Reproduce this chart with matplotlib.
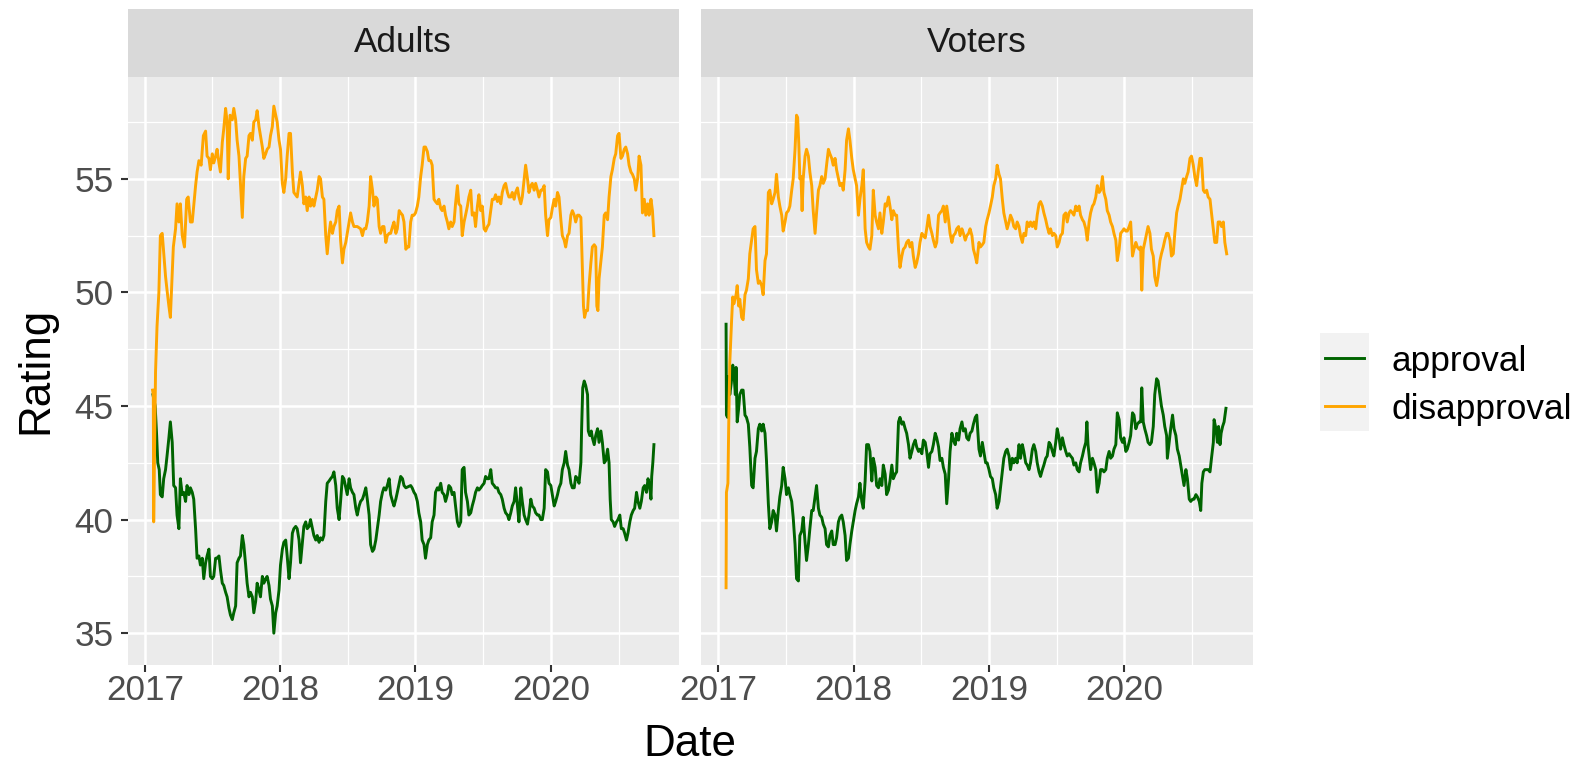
import numpy as np
import pandas as pd
import matplotlib
matplotlib.use("Agg")
import matplotlib.pyplot as plt
import matplotlib.dates as mdates
from matplotlib.ticker import FixedLocator

plt.rcParams['font.family'] = ['Liberation Sans', 'DejaVu Sans']

# ---------------- data (days since BASE_DATE, rating %) ----------------
BASE_DATE = "2017-01-01"
panels = ["Adults", "Voters"]
series_names = ["approval", "disapproval"]
x_tick_labels = ["2017", "2018", "2019", "2020"]
y_ticks = [35, 40, 45, 50, 55]

adults_disapproval_day = [21,23,24,26,29,33,38,42,47,56,60,65,69,77,83,87,92,96,101,107,113,117,123,128,132,137,141,146,152,158,164,168,173,177,182,186,191,195,200,204,209,213,218,222,225,230,236,240,245,249,254,258,263,267,272,276,281,285,290,294,299,303,308,312,317,321,326,330,335,339,344,348,353,357,362,366,371,375,380,384,389,393,398,402,411,420,425,429,434,438,443,447,452,456,461,465,470,474,479,483,488,492,497,501,506,510,515,519,524,528,533,537,542,546,551,555,560,564,573,582,587,591,596,600,605,609,614,618,623,627,632,636,641,645,650,654,659,663,668,672,677,681,686,690,695,699,704,708,712,717,721,726,730,735,739,744,748,753,757,762,766,771,775,780,784,789,793,798,802,807,811,816,820,825,829,834,838,843,847,852,856,861,865,870,874,879,883,888,892,897,901,906,910,915,919,924,928,933,937,942,946,951,955,960,964,969,973,978,982,987,991,996,1000,1005,1009,1014,1018,1023,1027,1032,1036,1041,1045,1050,1054,1059,1063,1068,1072,1077,1081,1086,1090,1095,1099,1104,1108,1113,1117,1122,1126,1131,1135,1140,1144,1149,1153,1158,1162,1167,1171,1176,1180,1183,1186,1190,1194,1198,1203,1207,1212,1216,1219,1222,1225,1230,1234,1239,1243,1248,1252,1257,1261,1266,1270,1275,1279,1284,1288,1293,1297,1302,1306,1311,1315,1320,1324,1329,1333,1338,1342,1347,1351,1356,1360,1365,1369,1373]
adults_disapproval = [45.7,45.5,39.9,42.5,46.5,48.5,50.0,52.5,52.6,50.7,50.1,49.4,48.9,52.0,52.8,53.9,53.1,53.9,52.5,52.0,54.1,54.2,53.1,53.1,53.8,54.7,55.3,55.8,55.6,56.9,57.1,56.0,55.9,55.4,56.1,55.7,56.0,56.3,55.7,55.3,56.6,57.2,58.1,57.5,55.0,57.8,57.6,58.1,57.6,56.7,56.0,54.8,53.3,55.1,55.9,56.0,56.9,57.0,56.7,57.5,57.6,58.0,57.3,56.9,56.4,55.9,56.1,56.3,56.4,56.9,57.3,58.2,57.8,57.5,56.7,56.3,54.8,54.4,55.0,56.0,57.0,57.0,55.3,54.4,54.2,55.3,54.7,53.9,54.2,53.6,54.2,53.8,54.1,53.8,54.2,54.5,55.1,55.0,54.2,54.1,52.5,51.7,52.6,53.1,52.6,52.9,53.1,53.6,53.8,52.3,51.3,51.9,52.2,52.6,53.1,53.5,53.1,52.9,52.9,52.8,52.5,52.8,52.8,53.1,53.8,55.1,54.5,53.8,54.2,54.1,52.9,52.6,52.9,52.9,52.2,52.5,52.6,52.6,52.9,53.1,52.6,52.8,53.6,53.5,53.4,53.1,51.9,52.0,52.0,53.1,53.4,53.4,53.5,53.8,54.2,55.1,55.6,56.4,56.4,56.2,55.8,55.8,55.6,54.1,54.0,53.9,54.1,53.7,53.6,53.8,53.4,53.1,52.8,53.1,52.9,53.1,53.9,54.7,53.9,53.8,52.5,53.1,53.4,53.8,54.2,54.5,53.4,53.5,52.9,53.8,54.3,53.6,53.8,52.8,52.7,52.9,53.0,53.6,54.1,54.1,54.3,54.0,54.2,53.9,54.4,54.7,54.8,54.4,54.2,54.2,54.4,54.1,54.4,54.6,54.2,53.9,54.2,55.0,55.6,55.0,54.4,54.7,54.8,54.5,54.8,54.5,54.2,54.5,54.5,54.7,53.4,52.5,53.2,53.3,53.7,54.1,53.8,54.4,54.2,53.2,52.5,52.3,52.0,52.5,52.6,53.4,53.6,53.4,53.1,53.4,53.4,53.3,51.1,49.4,48.9,49.2,49.2,50.3,51.3,52.0,52.1,52.0,49.4,49.2,50.6,51.4,52.0,53.4,53.5,53.2,54.2,55.1,55.4,55.9,56.1,56.9,57.0,55.9,56.0,56.3,56.4,56.1,55.6,55.3,55.2,55.0,54.5,55.0,56.0,55.6,53.5,54.1,53.4,53.9,53.4,54.1,53.6,52.5]

adults_approval_day = [22,28,32,35,39,42,47,51,56,60,65,69,74,78,83,87,92,96,101,105,110,114,119,123,128,132,137,141,146,150,155,159,164,168,173,177,182,186,191,195,200,204,209,213,218,222,227,231,236,240,245,249,254,258,263,267,272,276,281,285,290,294,299,303,308,312,317,321,326,330,335,339,344,348,353,357,362,366,371,375,380,384,389,393,398,402,407,411,416,420,425,429,434,438,443,447,452,456,461,465,470,474,479,483,488,492,497,501,506,510,515,519,524,528,533,537,542,546,551,555,560,564,569,573,578,582,587,591,596,600,605,609,614,618,623,627,632,636,641,645,650,654,659,663,668,672,677,681,686,690,695,699,704,717,721,726,730,735,739,744,748,753,757,762,766,771,775,780,784,789,793,798,802,807,811,816,820,825,829,834,838,843,847,852,856,861,865,870,874,879,883,888,892,897,901,906,910,915,919,924,928,933,937,942,946,951,955,960,964,969,973,978,982,987,991,996,1000,1005,1009,1014,1018,1023,1027,1032,1036,1041,1045,1050,1054,1059,1063,1068,1072,1077,1081,1086,1090,1095,1099,1104,1108,1113,1117,1122,1126,1131,1135,1140,1144,1149,1153,1158,1162,1167,1171,1176,1178,1181,1185,1189,1194,1196,1200,1204,1207,1212,1216,1221,1225,1230,1234,1239,1243,1248,1252,1255,1258,1263,1267,1272,1276,1281,1285,1290,1294,1299,1303,1308,1312,1317,1321,1326,1330,1335,1339,1344,1348,1353,1357,1362,1365,1367,1370,1373]
adults_approval = [45.5,45.0,43.7,42.5,42.2,41.1,41.0,41.8,42.2,42.8,43.6,44.3,43.4,41.5,41.4,40.2,39.6,41.8,41.1,41.2,40.8,41.5,41.1,41.4,41.2,40.9,39.6,38.3,38.4,38.0,38.3,37.4,38.1,38.4,38.7,37.5,37.4,37.5,38.3,38.3,38.4,37.8,37.2,37.1,36.8,36.6,36.1,35.8,35.6,35.9,36.2,38.1,38.3,38.4,39.3,38.9,38.0,37.2,36.6,36.8,36.6,35.9,36.4,37.2,36.9,36.6,37.5,37.2,37.4,37.5,37.1,36.5,36.2,35.0,35.9,36.2,36.9,38.0,38.7,39.0,39.1,38.4,37.4,38.1,39.4,39.6,39.7,39.6,39.1,38.1,39.0,39.7,39.9,39.6,39.7,40.0,39.6,39.3,39.1,39.3,39.0,39.2,39.1,39.3,40.8,41.6,41.7,41.8,41.9,42.1,41.5,40.5,40.0,40.8,41.9,41.8,41.4,41.1,41.8,41.4,41.2,41.1,40.5,40.2,40.6,40.8,40.9,41.1,41.4,40.9,40.2,38.9,38.6,38.7,39.1,39.6,40.2,40.8,41.2,41.4,41.3,41.5,41.8,41.1,40.8,40.6,40.9,41.2,41.6,41.9,41.8,41.5,41.4,41.5,41.4,41.2,41.1,40.8,40.3,39.9,39.1,38.9,38.3,38.9,39.1,39.2,39.9,40.2,41.2,41.4,41.3,41.6,41.2,41.1,40.8,41.1,41.5,41.4,41.1,41.2,40.6,39.9,39.7,39.9,42.2,42.3,41.2,40.8,40.2,40.3,40.6,40.9,41.2,41.4,41.3,41.4,41.5,41.6,41.9,41.8,41.8,42.2,41.6,41.5,41.4,41.4,41.2,41.1,40.9,40.5,40.3,40.2,40.0,40.3,40.6,40.8,41.4,40.6,39.9,41.4,40.8,40.2,40.0,39.8,40.2,40.9,40.6,40.5,40.3,40.2,40.2,40.0,40.0,40.5,42.2,42.1,41.6,41.5,41.1,40.6,40.8,41.1,41.4,41.6,42.2,42.5,43.0,42.4,42.2,41.6,41.4,41.4,41.9,41.8,41.6,42.5,44.0,45.8,46.1,45.9,45.5,43.9,43.7,43.9,43.6,43.3,43.7,44.0,43.4,43.9,43.4,42.5,42.6,43.1,42.5,40.9,40.0,39.9,39.7,39.9,40.0,40.2,39.6,39.6,39.4,39.1,39.4,39.9,40.2,40.4,40.5,41.2,40.8,40.5,40.8,41.4,41.5,41.2,41.8,41.4,40.9,41.9,42.5,43.3]

voters_disapproval_day = [21,22,26,28,31,35,36,39,42,48,51,55,58,63,67,72,76,81,85,90,94,99,103,108,112,117,121,126,130,135,139,144,148,153,157,162,166,171,175,180,184,189,193,198,202,207,211,214,217,220,223,226,229,234,238,243,247,252,256,261,265,270,274,279,283,288,292,297,301,306,310,315,319,324,328,333,337,342,346,351,355,360,364,369,373,378,382,387,391,396,400,405,409,414,418,423,427,432,436,441,445,450,454,459,463,468,472,477,481,486,490,495,499,504,508,513,517,522,526,531,535,540,544,549,553,558,562,567,571,576,580,585,589,594,598,603,607,612,616,621,625,630,634,639,643,648,652,657,661,666,670,675,679,684,688,693,697,703,707,712,716,721,725,730,734,739,743,748,752,757,761,766,770,775,779,784,788,793,797,802,806,811,815,820,824,829,833,838,842,847,851,856,860,865,869,874,878,883,887,892,896,901,905,910,914,919,923,928,932,937,941,946,950,955,959,964,968,973,977,982,986,991,995,1000,1004,1009,1013,1018,1022,1027,1031,1036,1040,1045,1049,1054,1058,1063,1067,1072,1076,1081,1085,1090,1094,1099,1103,1108,1112,1117,1121,1126,1130,1135,1139,1142,1146,1150,1155,1159,1164,1168,1173,1177,1182,1186,1191,1195,1200,1204,1209,1213,1218,1222,1227,1231,1236,1240,1245,1249,1254,1258,1263,1267,1272,1276,1281,1285,1290,1294,1299,1303,1308,1312,1317,1321,1326,1330,1335,1339,1344,1348,1353,1357,1362,1366,1371]
voters_disapproval = [37.0,41.2,41.6,44.0,46.9,48.5,48.8,49.8,49.5,49.9,50.3,49.4,49.7,48.9,48.8,49.9,50.1,50.6,51.7,52.3,52.8,52.9,51.0,50.4,50.5,50.3,49.9,51.4,51.7,54.4,54.5,53.9,54.1,54.4,55.2,54.2,53.8,53.4,52.7,53.1,53.5,53.6,53.8,54.5,55.0,56.3,57.8,57.7,56.6,55.0,55.1,53.6,55.0,56.0,56.3,56.0,55.3,54.7,53.6,52.6,53.5,54.5,54.7,55.1,54.8,55.0,55.6,56.3,56.1,55.9,55.6,55.9,55.4,55.0,54.7,54.8,54.5,55.4,56.7,57.2,56.7,55.9,55.4,55.0,54.7,53.4,54.1,54.7,55.4,52.8,52.2,52.0,51.9,52.5,54.5,53.4,53.1,52.8,53.5,52.6,53.1,53.9,53.8,54.2,53.8,53.2,53.6,53.4,53.4,51.9,51.1,51.6,51.9,52.0,52.2,52.3,52.0,52.2,51.6,51.1,51.3,51.7,52.2,52.6,52.5,52.4,52.8,53.4,52.9,52.6,52.3,52.0,52.2,53.4,53.5,53.6,53.8,53.1,53.8,53.2,52.6,52.2,52.5,52.6,52.8,52.9,52.5,52.8,52.6,52.3,52.5,52.6,52.8,52.5,51.9,51.6,51.3,52.2,52.0,52.1,52.2,52.9,53.2,53.5,53.8,54.2,54.7,55.0,55.6,55.2,55.0,54.1,53.5,53.1,52.8,53.1,53.4,53.2,52.9,52.8,53.1,52.9,52.5,52.2,52.6,52.5,53.1,52.9,53.1,52.9,53.1,52.8,53.4,53.9,54.0,53.8,53.5,53.2,52.9,52.6,52.8,52.5,52.6,52.5,52.0,52.2,52.5,52.6,53.4,53.5,53.1,53.5,53.6,53.5,53.4,53.8,53.6,53.8,53.4,53.2,53.1,52.8,52.3,53.1,53.5,53.8,53.9,54.2,54.7,54.4,54.5,55.1,54.4,54.1,53.6,53.4,53.1,52.9,52.6,52.3,51.4,51.9,52.6,52.7,52.8,52.7,52.7,52.9,53.1,51.6,51.9,52.2,52.0,51.9,52.0,50.1,51.9,52.2,52.6,52.9,52.6,51.9,51.6,50.7,50.3,50.7,51.4,51.7,52.0,52.3,52.6,52.6,52.3,51.6,51.7,52.6,53.5,53.8,54.1,54.5,55.0,54.8,55.1,55.3,55.9,56.0,55.6,55.1,54.7,55.3,55.9,55.9,54.5,54.4,54.5,54.2,54.1,53.5,52.8,52.2,52.2,53.1,53.1,52.9,53.1,52.2,51.7]

voters_approval_day = [21,22,25,28,31,35,39,42,46,48,51,55,58,63,67,72,76,81,85,90,94,99,103,108,112,117,121,126,130,135,139,144,148,153,157,162,166,171,175,180,184,189,193,198,202,207,211,216,220,225,229,234,238,243,247,252,256,261,265,270,274,279,283,288,292,297,301,306,310,315,319,324,328,333,337,342,346,351,355,360,364,369,373,378,382,387,391,396,400,405,409,414,418,423,427,432,436,441,445,450,454,459,463,468,472,477,481,486,490,495,499,504,508,513,517,522,526,531,535,540,544,549,553,558,562,567,571,576,580,585,589,594,598,603,607,612,616,621,625,630,634,639,643,648,652,657,661,666,670,675,679,684,688,693,697,703,707,712,716,721,725,730,734,739,743,748,752,757,761,766,770,775,779,784,788,793,797,802,806,811,815,820,824,829,833,838,842,847,851,856,860,865,869,874,878,883,887,892,896,901,905,910,914,919,923,928,932,937,941,946,950,955,959,964,968,973,977,982,986,991,994,997,1002,1004,1009,1013,1018,1022,1027,1031,1036,1040,1045,1049,1054,1058,1063,1067,1072,1076,1081,1085,1090,1094,1099,1103,1108,1112,1117,1121,1126,1130,1135,1139,1142,1146,1150,1155,1159,1164,1168,1173,1177,1182,1186,1191,1195,1200,1204,1209,1211,1216,1220,1225,1229,1234,1238,1243,1247,1252,1256,1261,1265,1270,1274,1279,1283,1288,1292,1297,1301,1304,1308,1312,1317,1321,1326,1330,1335,1337,1342,1346,1349,1353,1356,1360,1364,1369]
voters_approval = [48.6,44.6,44.5,46.3,45.5,46.0,46.8,46.5,45.5,46.7,44.3,44.9,45.5,45.7,45.7,44.6,44.5,44.2,43.2,41.5,41.4,42.7,43.0,44.0,44.2,43.9,44.2,43.8,42.6,40.7,39.6,39.9,40.4,40.2,39.5,40.4,41.0,41.5,42.3,41.8,41.1,41.4,41.1,40.8,40.1,38.9,37.4,37.3,39.3,39.5,40.1,39.0,38.2,38.9,39.6,40.4,40.4,41.0,41.5,40.5,40.2,40.1,39.8,39.6,38.9,38.8,39.3,39.5,38.9,38.9,39.2,39.9,40.1,40.2,39.9,39.3,38.2,38.3,38.9,39.5,39.9,40.4,40.7,41.0,41.6,40.8,40.5,41.7,43.3,43.3,43.0,41.7,42.7,42.3,41.5,41.4,41.8,41.5,42.4,42.0,41.1,41.3,41.7,42.4,41.8,42.0,42.1,44.3,44.5,44.2,44.3,44.0,43.8,43.3,42.7,43.0,43.3,43.5,43.2,43.0,43.1,42.9,43.5,43.4,43.0,42.3,42.9,43.0,43.3,43.8,43.6,43.2,42.6,42.7,42.3,42.0,40.7,41.8,43.0,43.8,43.5,43.3,43.8,43.5,44.0,44.3,43.9,44.0,43.6,43.5,43.8,43.9,44.2,44.5,44.6,43.1,42.8,43.4,43.0,42.5,42.5,42.2,41.9,41.8,41.4,41.1,40.5,40.8,41.4,42.1,42.7,43.0,43.1,42.8,42.2,42.7,42.5,42.7,42.5,43.3,42.7,43.3,43.0,42.5,42.4,42.2,42.5,43.1,43.3,43.0,42.5,42.1,41.9,42.2,42.4,42.7,42.8,43.4,43.3,43.0,42.8,43.4,44.0,43.6,43.1,43.6,43.3,43.0,42.8,42.9,42.8,42.7,42.4,42.5,42.2,42.1,42.5,42.8,43.1,43.4,44.3,43.3,42.5,42.2,42.7,42.5,42.2,41.2,41.6,42.2,42.2,42.1,42.2,42.7,43.0,42.7,42.8,43.1,43.3,44.7,44.4,43.6,43.4,43.6,43.0,43.1,43.4,43.7,44.7,44.6,44.0,44.2,44.3,44.3,45.8,44.3,44.0,43.7,43.4,43.3,43.4,44.1,45.5,46.2,46.1,45.5,45.0,44.6,44.1,43.7,42.7,43.4,44.0,44.6,44.0,43.7,43.1,42.8,42.4,41.9,41.5,42.2,41.8,40.9,40.8,40.9,40.9,41.1,41.0,40.8,40.4,41.6,42.1,42.2,42.2,42.2,42.1,42.7,43.4,44.4,44.0,43.4,44.1,43.3,43.8,44.1,44.3,44.9]

data = {
    "Adults": {"approval": (adults_approval_day, adults_approval),
               "disapproval": (adults_disapproval_day, adults_disapproval)},
    "Voters": {"approval": (voters_approval_day, voters_approval),
               "disapproval": (voters_disapproval_day, voters_disapproval)},
}

# ---------------- style ----------------
colors = {"approval": "#006400", "disapproval": "#FFA500"}
PANEL_BG = "#EBEBEB"
STRIP_BG = "#D9D9D9"
TXT_DARK = "#1A1A1A"
TXT_AXIS = "#4D4D4D"
TICK_COL = "#333333"
SMALL = 25.3
LARGE = 31.7

W, H = 1580, 767
fig = plt.figure(figsize=(W / 100, H / 100), dpi=100)


def box(l, t, r, b):
    return [l / W, 1 - b / H, (r - l) / W, (b - t) / H]


base = mdates.date2num(pd.Timestamp(BASE_DATE))
all_days = np.concatenate([np.asarray(d[s][0], float) for d in data.values() for s in d])
all_vals = np.concatenate([np.asarray(d[s][1], float) for d in data.values() for s in d])
dspan = all_days.max() - all_days.min()
xlim = (base + all_days.min() - 0.05 * dspan, base + all_days.max() + 0.05 * dspan)
ylim = (33.6, 59.5)

major_x = [mdates.date2num(pd.Timestamp(f"{y}-01-01")) for y in x_tick_labels]
minor_x = [(major_x[i] + major_x[i + 1]) / 2 for i in range(len(major_x) - 1)]
minor_x.append(major_x[-1] + (major_x[-1] - major_x[-2]) / 2)
minor_y = [v + 2.5 for v in y_ticks]

panel_boxes = {"Adults": (127.5, 76.6, 679, 665), "Voters": (701, 76.6, 1252.5, 665)}

for i, name in enumerate(panels):
    l, t, r, b = panel_boxes[name]
    ax = fig.add_axes(box(l, t, r, b))
    ax.set_facecolor(PANEL_BG)
    for sp in ax.spines.values():
        sp.set_visible(False)
    ax.set_xlim(*xlim)
    ax.set_ylim(*ylim)
    for v in minor_y:
        ax.axhline(v, color="white", lw=0.9, zorder=0.5)
    for v in minor_x:
        ax.axvline(v, color="white", lw=0.9, zorder=0.5)
    for v in y_ticks:
        ax.axhline(v, color="white", lw=1.8, zorder=0.6)
    for v in major_x:
        ax.axvline(v, color="white", lw=1.8, zorder=0.6)
    for s in series_names:
        days, vals = data[name][s]
        ax.plot(base + np.asarray(days, float), vals, color=colors[s], lw=2.1,
                solid_joinstyle="round", zorder=2)
    ax.xaxis.set_major_locator(FixedLocator(major_x))
    ax.set_xticklabels(x_tick_labels)
    ax.yaxis.set_major_locator(FixedLocator(y_ticks))
    ax.set_yticklabels([str(v) for v in y_ticks])
    ax.tick_params(axis="both", length=5, width=1.5, color=TICK_COL,
                   labelsize=SMALL, labelcolor=TXT_AXIS)
    ax.tick_params(axis="x", pad=1.5)
    ax.tick_params(axis="y", pad=5)
    if i > 0:
        ax.tick_params(axis="y", left=False, labelleft=False)
    # strip
    sax = fig.add_axes(box(l, 8.5, r, t))
    sax.set_facecolor(STRIP_BG)
    sax.set_xticks([])
    sax.set_yticks([])
    for sp in sax.spines.values():
        sp.set_visible(False)
    sax.text(0.5, 0.5, name, ha="center", va="center", fontsize=SMALL,
             color=TXT_DARK, transform=sax.transAxes)

# axis titles
fig.text((127.5 + 1252.5) / 2 / W, 1 - 744 / H, "Date", ha="center", va="center",
         fontsize=LARGE, color="black")
fig.text(36 / W, 1 - 370.8 / H, "Rating", ha="center", va="center", rotation=90,
         fontsize=LARGE, color="black")

# legend
lax = fig.add_axes(box(1320, 333.3, 1369, 430.7))
lax.set_facecolor("#F2F2F2")
lax.set_xlim(0, 1)
lax.set_ylim(0, 1)
lax.set_xticks([])
lax.set_yticks([])
for sp in lax.spines.values():
    sp.set_visible(False)
key_y = {"approval": 0.75, "disapproval": 0.25}
for s in series_names:
    lax.plot([0.1, 0.9], [key_y[s]] * 2, color=colors[s], lw=2.1)
    fig.text(1391.7 / W, 1 - (333.3 + (1 - key_y[s]) * 97.4) / H, s, ha="left",
             va="center_baseline", fontsize=SMALL, color="black")

fig.savefig("out.png", dpi=100)
